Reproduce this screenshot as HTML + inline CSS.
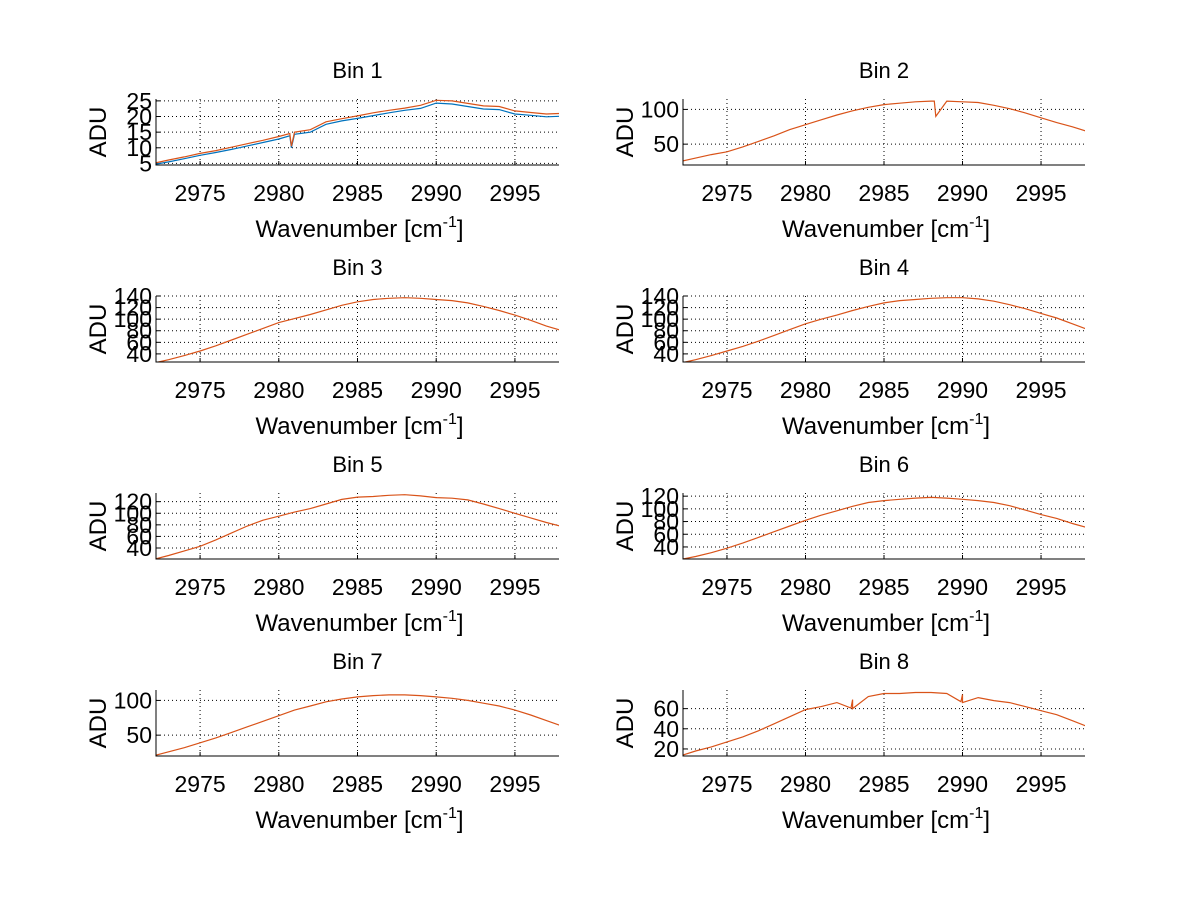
<!DOCTYPE html>
<html><head><meta charset="utf-8"><style>
html,body{margin:0;padding:0;background:#fff;}
svg{display:block;font-family:"Liberation Sans",Arial,sans-serif;}
</style></head><body>
<svg id="fig" width="1200" height="901" viewBox="0 0 1200 901" xmlns="http://www.w3.org/2000/svg"></svg>
<script>
const WAVENUMBERS=[2972,2973,2974,2975,2976,2977,2978,2979,2980,2981,2982,2983,2984,2985,2986,2987,2988,2989,2990,2991,2992,2993,2994,2995,2996,2997,2998];
const X_TICKS=[2975,2980,2985,2990,2995];
const bin1Orange=[5.0,6.1,7.1,8.2,9.1,10.2,11.3,12.4,13.6,15.0,15.8,18.3,19.3,20.2,21.2,22.0,22.7,23.6,25.2,25.0,24.2,23.4,23.2,21.8,21.3,20.8,21.0];
const bin1Blue=[4.6,5.5,6.5,7.6,8.5,9.5,10.6,11.7,12.8,14.3,15.0,17.5,18.6,19.4,20.3,21.2,22.0,22.6,24.3,24.0,23.2,22.4,22.2,20.8,20.4,19.9,20.1];
const bin2=[25,30,35,39,46,54,62,71,78,85,92,98,103,107,109,111,112,112,111,110,106,101,95,88,81,75,68];
const bin3=[24,30,37,45,54,64,74,84,94,101,108,116,124,130,134,136,137,136,134,132,128,122,115,107,98,88,80];
const bin4=[24,30,37,45,53,62,72,82,92,100,107,115,122,128,132,134,136,137,137,135,131,125,118,110,102,92,82];
const bin5=[20,27,35,43,54,66,78,88,95,102,108,116,124,128,129,131,132,130,127,126,123,116,108,100,92,84,77];
const bin6=[20,25,31,38,46,55,64,73,82,90,97,104,110,113,115,117,118,117,115,113,110,105,98,91,85,77,70];
const bin7=[20,26,32,39,46,54,62,70,78,86,92,98,102,105,107,108,108,107,105,103,100,96,92,86,79,71,63];
const bin8=[13,18,22,27,32,38,45,52,59,62,66,69,72,75,75,76,76,75,74,71,68,66,62,58,54,48,42];
const bin1DipX=[2980.8], bin1DipY=[10.5];
const bin2DipX=[2988.3], bin2DipY=[90];
const bin8DipX=[2983,2990], bin8DipY=[60,66];

const NS="http://www.w3.org/2000/svg";
const svg=document.getElementById('fig');
const XMIN=2972.2, XMAX=2997.8;
function mk(tag,attrs,parent){const e=document.createElementNS(NS,tag);for(const k in attrs)e.setAttribute(k,attrs[k]);(parent||svg).appendChild(e);return e;}

const panels=[
 {title:'Bin 1',col:0,row:0,ymin:4.5,ymax:25.6,yticks:[5,10,15,20,25],series:[[bin1Blue,'#0072BD',bin1DipX,[10.0]],[bin1Orange,'#D95319',bin1DipX,bin1DipY]]},
 {title:'Bin 2',col:1,row:0,ymin:20,ymax:115,yticks:[50,100],series:[[bin2,'#D95319',bin2DipX,bin2DipY]]},
 {title:'Bin 3',col:0,row:1,ymin:26,ymax:140,yticks:[40,60,80,100,120,140],series:[[bin3,'#D95319',[],[]]]},
 {title:'Bin 4',col:1,row:1,ymin:26,ymax:140,yticks:[40,60,80,100,120,140],series:[[bin4,'#D95319',[],[]]]},
 {title:'Bin 5',col:0,row:2,ymin:21,ymax:135,yticks:[40,60,80,100,120],series:[[bin5,'#D95319',[],[]]]},
 {title:'Bin 6',col:1,row:2,ymin:21,ymax:125,yticks:[40,60,80,100,120],series:[[bin6,'#D95319',[],[]]]},
 {title:'Bin 7',col:0,row:3,ymin:20,ymax:115,yticks:[50,100],series:[[bin7,'#D95319',[],[]]]},
 {title:'Bin 8',col:1,row:3,ymin:13,ymax:78.5,yticks:[20,40,60],series:[[bin8,'#D95319',bin8DipX,bin8DipY]]}
];

panels.forEach((p,i)=>{
  const L=p.col?683:156, R=p.col?1085:559, T=99+p.row*197, B=T+66;
  const g=mk('g',{});
  
  
  const sx=v=>L+(v-XMIN)/(XMAX-XMIN)*(R-L);
  const sy=v=>B-(v-p.ymin)/(p.ymax-p.ymin)*(B-T);
  X_TICKS.forEach(t=>{
    const gl=mk('line',{x1:sx(t),x2:sx(t),y1:T,y2:B,stroke:'#000','stroke-width':1,'stroke-dasharray':'1,3'},g);
    
    
    mk('line',{x1:sx(t),x2:sx(t),y1:B,y2:B-4,stroke:'#000'},g);
    const tl=mk('text',{x:sx(t),y:B+36,'font-size':23,'text-anchor':'middle'},g);
    tl.textContent=t;
    
    
  });
  p.yticks.forEach(t=>{
    const gl=mk('line',{x1:L,x2:R,y1:sy(t),y2:sy(t),stroke:'#000','stroke-width':1,'stroke-dasharray':'1,3'},g);
    
    
    mk('line',{x1:L,x2:L+4,y1:sy(t),y2:sy(t),stroke:'#000'},g);
    const tl=mk('text',{x:L-4,y:sy(t)+8,'font-size':23,'text-anchor':'end'},g);
    tl.textContent=t;
    
    
  });
  const cid='clip'+i;
  const cp=mk('clipPath',{id:cid},g);mk('rect',{x:L,y:T-3,width:R-L,height:B-T+3},cp);
  p.series.forEach(s=>{
    const pts=WAVENUMBERS.map((x,k)=>[x,s[0][k]]);
    s[2].forEach((x,k)=>{pts.push([x-0.1,null]);pts.push([x,s[3][k]]);});
    pts.sort((a,b)=>a[0]-b[0]);
    for(let k=0;k<pts.length;k++){if(pts[k][1]===null){const a=pts[k-1],b=pts[k+2]||pts[k+1];pts[k][1]=a[1]+(b[1]-a[1])*(pts[k][0]-a[0])/(b[0]-a[0]);}}
    const d=pts.map((q,k)=>(k?'L':'M')+sx(q[0]).toFixed(1)+','+sy(q[1]).toFixed(1)).join('');
    const pl=mk('path',{d:d,fill:'none',stroke:s[1],'stroke-width':1.2,'clip-path':'url(#'+cid+')'},g);
    
    
  });
  const ax=mk('path',{d:`M${L},${T}L${L},${B}L${R},${B}`,fill:'none',stroke:'#000','stroke-width':1},g);
  
  
  const ti=mk('text',{x:(L+R)/2,y:T-21,'font-size':22,'text-anchor':'middle'},g);
  ti.textContent=p.title;
  
  
  const xl=mk('text',{x:(L+R)/2+2,y:B+72,'font-size':24,'text-anchor':'middle'},g);
  xl.innerHTML='Wavenumber [cm<tspan dy="-10" font-size="16">-1</tspan><tspan dy="10">]</tspan>';
  
  
  const cx=L-50, cy=(T+B)/2;
  const yl=mk('text',{x:cx,y:cy,'font-size':24,'text-anchor':'middle',transform:`rotate(-90 ${cx} ${cy})`},g);
  yl.textContent='ADU';
  
  
});
</script>
</body></html>
